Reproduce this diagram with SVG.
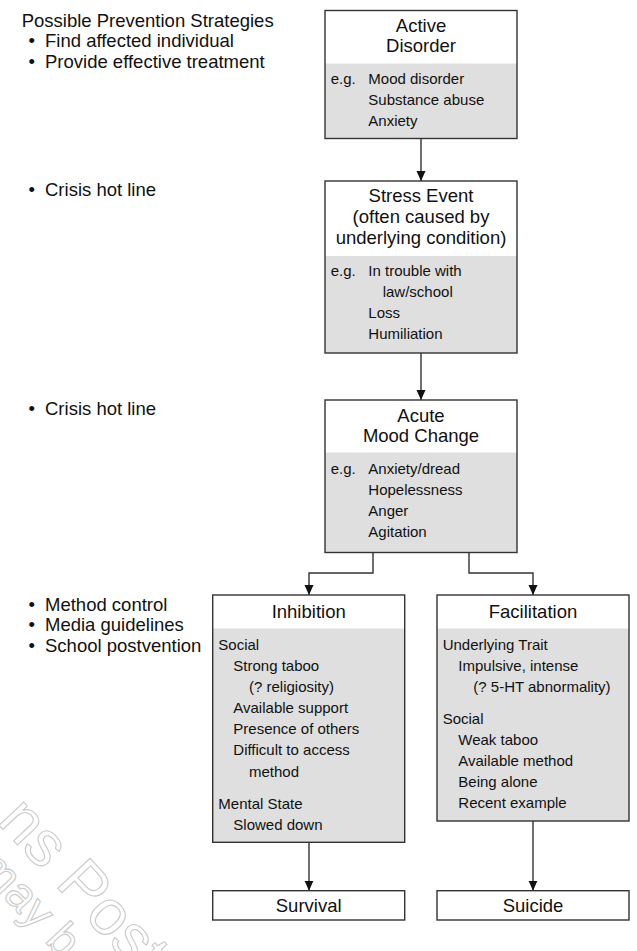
<svg xmlns="http://www.w3.org/2000/svg" width="637" height="951" viewBox="0 0 637 951">
<style>
text { font-family: "Liberation Sans", Arial, Helvetica, sans-serif; fill: #111; }
.big { font-size: 18.5px; }
.hd { font-size: 18.5px; text-anchor: middle; }
.sm { font-size: 15px; }
.frame { fill: #fff; stroke: none; }
.shade { fill: #dfdfdf; stroke: none; }
.border { fill: none; stroke: #333; stroke-width: 1.4; }
.conn { fill: none; stroke: #333; stroke-width: 1.4; }
.wm { font-family: "Liberation Sans", Arial, sans-serif; fill: none; stroke: #cacaca; stroke-width: 1.1; }
</style>
<defs>
<marker id="arrow" markerUnits="userSpaceOnUse" markerWidth="10" markerHeight="10" refX="10" refY="5" orient="auto">
<path d="M0,0.5 L10,5 L0,9.5 z" fill="#111"/>
</marker>
</defs>

<g id="watermark">
<text class="wm" font-size="64" transform="translate(-4,822) rotate(47)">ns Post</text>
<text class="wm" font-size="46" transform="translate(-24,868) rotate(47)">may b</text>
</g>

<g id="strategies">
<text class="big" x="21.7" y="26.7">Possible Prevention Strategies</text>
<text class="big" x="28.5" y="47">•</text><text class="big" x="45" y="47">Find affected individual</text>
<text class="big" x="28.5" y="67.7">•</text><text class="big" x="45" y="67.7">Provide effective treatment</text>
<text class="big" x="28.5" y="195.5">•</text><text class="big" x="45" y="195.5">Crisis hot line</text>
<text class="big" x="28.5" y="415">•</text><text class="big" x="45" y="415">Crisis hot line</text>
<text class="big" x="28.5" y="610.7">•</text><text class="big" x="45" y="610.7">Method control</text>
<text class="big" x="28.5" y="631.2">•</text><text class="big" x="45" y="631.2">Media guidelines</text>
<text class="big" x="28.5" y="651.7">•</text><text class="big" x="45" y="651.7">School postvention</text>
</g>

<g id="connectors">
<path class="conn" d="M421,138.5 V181" marker-end="url(#arrow)"/>
<path class="conn" d="M421,353 V400" marker-end="url(#arrow)"/>
<path class="conn" d="M373,552.5 V573 H309 V595" marker-end="url(#arrow)"/>
<path class="conn" d="M469,552.5 V573 H533 V595" marker-end="url(#arrow)"/>
<path class="conn" d="M309,842.3 V890.7" marker-end="url(#arrow)"/>
<path class="conn" d="M533,821 V890.7" marker-end="url(#arrow)"/>
</g>

<g id="active-disorder">
<rect class="frame" x="325" y="10.5" width="192" height="128"/>
<rect class="shade" x="325" y="63.5" width="192" height="75"/>
<rect class="border" x="325" y="10.5" width="192" height="128"/>
<text class="hd" x="421" y="31.7">Active</text>
<text class="hd" x="421" y="52.3">Disorder</text>
<text class="sm" x="330.7" y="83.5">e.g.</text>
<text class="sm" x="368.3" y="83.5">Mood disorder</text>
<text class="sm" x="368.3" y="104.7">Substance abuse</text>
<text class="sm" x="368.3" y="125.7">Anxiety</text>
</g>

<g id="stress-event">
<rect class="frame" x="325" y="181" width="192" height="172"/>
<rect class="shade" x="325" y="256" width="192" height="97"/>
<rect class="border" x="325" y="181" width="192" height="172"/>
<text class="hd" x="421" y="202.3">Stress Event</text>
<text class="hd" x="421" y="223.3">(often caused by</text>
<text class="hd" x="421" y="244.3">underlying condition)</text>
<text class="sm" x="330.7" y="276">e.g.</text>
<text class="sm" x="368.3" y="276">In trouble with</text>
<text class="sm" x="382.7" y="297.3">law/school</text>
<text class="sm" x="368.3" y="318.3">Loss</text>
<text class="sm" x="368.3" y="339.3">Humiliation</text>
</g>

<g id="acute-mood-change">
<rect class="frame" x="325" y="400" width="192" height="152.5"/>
<rect class="shade" x="325" y="452.5" width="192" height="100"/>
<rect class="border" x="325" y="400" width="192" height="152.5"/>
<text class="hd" x="421" y="421.7">Acute</text>
<text class="hd" x="421" y="442.3">Mood Change</text>
<text class="sm" x="330.7" y="474">e.g.</text>
<text class="sm" x="368.3" y="474">Anxiety/dread</text>
<text class="sm" x="368.3" y="495.3">Hopelessness</text>
<text class="sm" x="368.3" y="516.3">Anger</text>
<text class="sm" x="368.3" y="537.3">Agitation</text>
</g>

<g id="inhibition">
<rect class="frame" x="212.7" y="595" width="192" height="247.3"/>
<rect class="shade" x="212.7" y="628.5" width="192" height="213.8"/>
<rect class="border" x="212.7" y="595" width="192" height="247.3"/>
<text class="hd" x="308.7" y="617.7">Inhibition</text>
<text class="sm" x="218.3" y="650">Social</text>
<text class="sm" x="233.3" y="671">Strong taboo</text>
<text class="sm" x="249" y="692">(? religiosity)</text>
<text class="sm" x="233.3" y="713">Available support</text>
<text class="sm" x="233.3" y="734">Presence of others</text>
<text class="sm" x="233.3" y="755">Difficult to access</text>
<text class="sm" x="249" y="776.5">method</text>
<text class="sm" x="218.3" y="809">Mental State</text>
<text class="sm" x="233.3" y="830">Slowed down</text>
</g>

<g id="facilitation">
<rect class="frame" x="437" y="595" width="192" height="226"/>
<rect class="shade" x="437" y="628.5" width="192" height="192.5"/>
<rect class="border" x="437" y="595" width="192" height="226"/>
<text class="hd" x="533" y="617.7">Facilitation</text>
<text class="sm" x="442.7" y="650">Underlying Trait</text>
<text class="sm" x="458.3" y="671">Impulsive, intense</text>
<text class="sm" x="473.3" y="692">(? 5-HT abnormality)</text>
<text class="sm" x="442.7" y="724">Social</text>
<text class="sm" x="458.3" y="745">Weak taboo</text>
<text class="sm" x="458.3" y="766">Available method</text>
<text class="sm" x="458.3" y="787">Being alone</text>
<text class="sm" x="458.3" y="808">Recent example</text>
</g>

<g id="survival">
<rect class="frame" x="212.7" y="890.7" width="192" height="29.3"/>
<rect class="border" x="212.7" y="890.7" width="192" height="29.3"/>
<text class="hd" x="308.7" y="911.8">Survival</text>
</g>

<g id="suicide">
<rect class="frame" x="437" y="890.7" width="192" height="29.3"/>
<rect class="border" x="437" y="890.7" width="192" height="29.3"/>
<text class="hd" x="533" y="911.8">Suicide</text>
</g>
</svg>
